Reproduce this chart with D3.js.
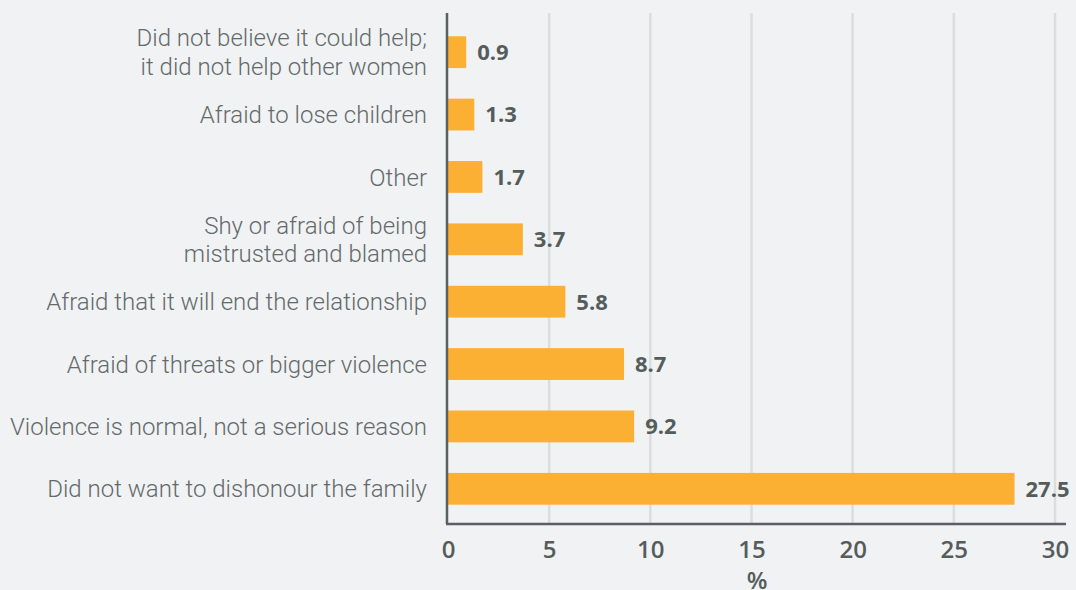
<!DOCTYPE html>
<html>
<head>
<meta charset="utf-8">
<script src="https://cdn.jsdelivr.net/npm/d3@7"></script>
<style>
  html, body { margin: 0; padding: 0; background: #f1f2f4; }
  svg { display: block; }
  .cat { font-family: Roboto, sans-serif; font-weight: 300; font-size: 24px; fill: #636a6a; }
  .val { font-family: "Open Sans", sans-serif; font-weight: 700; font-size: 22px; fill: #555c5c; }
  .tick text { font-family: "Open Sans", sans-serif; font-weight: 600; font-size: 24px; fill: #555c5c; }
</style>
</head>
<body>
<div id="chart"></div>
<script>
// categories top to bottom (lines split for wrapped labels)
const categories = [
  ["Did not believe it could help;", "it did not help other women"],
  ["Afraid to lose children"],
  ["Other"],
  ["Shy or afraid of being", "mistrusted and blamed"],
  ["Afraid that it will end the relationship"],
  ["Afraid of threats or bigger violence"],
  ["Violence is normal, not a serious reason"],
  ["Did not want to dishonour the family"]
];
// bar lengths as drawn in the picture
const values = [0.9, 1.3, 1.7, 3.7, 5.8, 8.7, 9.2, 28.0];
// value labels as printed
const valueLabels = ["0.9", "1.3", "1.7", "3.7", "5.8", "8.7", "9.2", "27.5"];
const xTicks = [0, 5, 10, 15, 20, 25, 30];

const width = 1076, height = 590;
const x0 = 448, x1 = 1055, yTop = 13, yBottom = 524;

const svg = d3.select("#chart").append("svg")
  .attr("width", width).attr("height", height);

svg.append("rect").attr("width", width).attr("height", height).attr("fill", "#f1f2f4");

const x = d3.scaleLinear().domain([0, 30]).range([x0, x1]);
const y = d3.scaleBand().domain(d3.range(categories.length)).range([21, 520]).paddingInner(0.49).paddingOuter(0.245);

// gridlines
svg.append("g").selectAll("line").data(xTicks.filter(d => d > 0)).join("line")
  .attr("x1", d => x(d)).attr("x2", d => x(d))
  .attr("y1", yTop).attr("y2", yBottom)
  .attr("stroke", "#dcdddd").attr("stroke-width", 2.5);

// bars
svg.append("g").selectAll("rect").data(values).join("rect")
  .attr("x", x(0))
  .attr("y", (d, i) => y(i))
  .attr("width", d => x(d) - x(0))
  .attr("height", y.bandwidth())
  .attr("fill", "#fcb033");

// value labels
svg.append("g").selectAll("text").data(valueLabels).join("text")
  .attr("class", "val")
  .attr("x", (d, i) => x(values[i]) + 11)
  .attr("y", (d, i) => y(i) + y.bandwidth() / 2)
  .attr("dy", "0.36em")
  .text(d => d);

// category labels
const cat = svg.append("g").selectAll("text").data(categories).join("text")
  .attr("class", "cat")
  .attr("text-anchor", "end")
  .attr("x", 427)
  .attr("y", (d, i) => y(i) + y.bandwidth() / 2);
cat.selectAll("tspan").data(d => d.map((t, j) => ({t, j, n: d.length}))).join("tspan")
  .attr("x", 427)
  .attr("dy", d => d.j === 0 ? `${0.36 - (d.n - 1) * 0.6}em` : "1.2em")
  .text(d => d.t);

// x axis
const xAxis = svg.append("g")
  .attr("transform", `translate(0,${yBottom})`)
  .call(d3.axisBottom(x).tickValues(xTicks).tickSize(0).tickPadding(17));
xAxis.select(".domain").remove();

// axis lines
svg.append("line").attr("x1", x0 - 1).attr("x2", x0 - 1).attr("y1", yTop).attr("y2", yBottom)
  .attr("stroke", "#5a5f60").attr("stroke-width", 2.5);
svg.append("line").attr("x1", x0 - 2).attr("x2", 1066).attr("y1", yBottom).attr("y2", yBottom)
  .attr("stroke", "#5a5f60").attr("stroke-width", 2.5);

// axis title
svg.append("text")
  .attr("x", 757).attr("y", 589)
  .attr("text-anchor", "middle")
  .style("font-family", "'Open Sans', sans-serif")
  .style("font-weight", 600).style("font-size", "24px")
  .attr("fill", "#555c5c")
  .text("%");
</script>
</body>
</html>
